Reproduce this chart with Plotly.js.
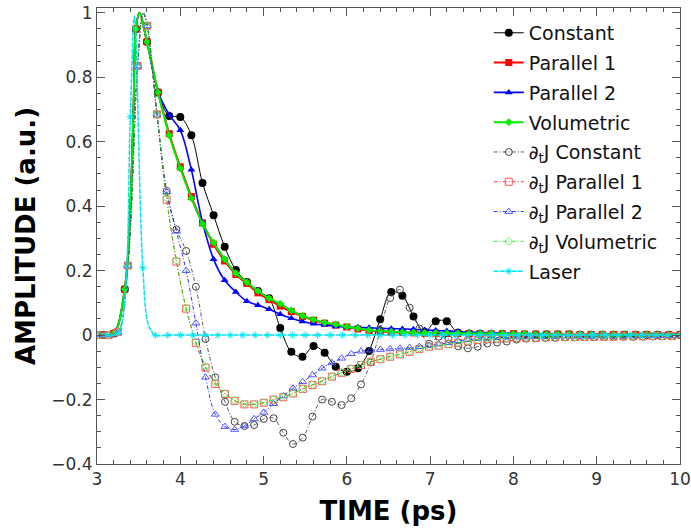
<!DOCTYPE html>
<html><head><meta charset="utf-8">
<script src="https://cdn.plot.ly/plotly-3.0.1.min.js"></script>
<style>html,body{margin:0;padding:0;background:#fff}#chart{width:691px;height:531px}</style>
</head><body><div id="chart"></div>
<script>
// ---- time grids (ps) ----
const T_SOLID = [3.067,3.2,3.333,3.467,3.6,3.733,3.867,4.0,4.133,4.267,4.4,4.533,4.667,4.8,4.933,5.067,5.2,5.333,5.467,5.6,5.733,5.867,6.0,6.133,6.267,6.4,6.533,6.667,6.8,6.933,7.067,7.2,7.333,7.467,7.6,7.733,7.867,8.0,8.133,8.267,8.4,8.533,8.667,8.8,8.933,9.067,9.2,9.333,9.467,9.6,9.733,9.867,10.0];
const T_DTJ = [3.02,3.137,3.253,3.37,3.487,3.603,3.72,3.837,3.953,4.07,4.187,4.303,4.42,4.537,4.653,4.77,4.887,5.003,5.12,5.237,5.353,5.47,5.587,5.703,5.82,5.937,6.053,6.17,6.287,6.403,6.52,6.637,6.753,6.87,6.987,7.103,7.22,7.337,7.453,7.57,7.687,7.803,7.92,8.037,8.153,8.27,8.387,8.503,8.62,8.737,8.853,8.97,9.087,9.203,9.32,9.437,9.553,9.67,9.787,9.903];
const T_LASER = [3.1,3.25,3.4,3.55,3.7,3.85,4.0,4.15,4.3,4.45,4.6,4.75,4.9,5.05,5.2,5.35,5.5,5.65,5.8,5.95,6.1,6.25,6.4,6.55,6.7,6.85,7.0,7.15,7.3,7.45,7.6,7.75,7.9,8.05,8.2,8.35,8.5,8.65,8.8,8.95,9.1,9.25,9.4,9.55,9.7,9.85,10.0];

// ---- series values ----
const CONSTANT = [0.0,0.005,0.142,0.95,0.91,0.753,0.68,0.677,0.62,0.472,0.372,0.274,0.202,0.165,0.137,0.114,0.022,-0.052,-0.067,-0.034,-0.055,-0.098,-0.114,-0.103,-0.049,0.049,0.134,0.122,0.058,0.01,0.043,0.043,0.007,0.004,0.004,0.003,0.003,0.003,0.002,0.002,0.002,0.002,0.002,0.001,0.001,0.001,0.001,0.001,0.001,0.001,0.001,0.001,0.001];
const PARALLEL1 = [0.0,0.005,0.142,0.95,0.91,0.754,0.625,0.522,0.43,0.348,0.282,0.23,0.188,0.16,0.131,0.11,0.09,0.073,0.058,0.046,0.037,0.031,0.025,0.019,0.014,0.011,0.009,0.008,0.007,0.006,0.006,0.005,0.005,0.005,0.004,0.004,0.004,0.004,0.003,0.003,0.003,0.003,0.003,0.002,0.002,0.002,0.002,0.002,0.002,0.002,0.001,0.001,0.001];
const PARALLEL2 = [0.0,0.005,0.142,0.95,0.91,0.755,0.684,0.636,0.513,0.35,0.235,0.17,0.134,0.105,0.093,0.08,0.065,0.052,0.042,0.035,0.031,0.027,0.025,0.024,0.023,0.021,0.02,0.019,0.018,0.016,0.014,0.013,0.011,0.009,0.008,0.007,0.006,0.005,0.005,0.004,0.004,0.004,0.003,0.003,0.003,0.003,0.002,0.002,0.002,0.002,0.002,0.001,0.001];
const VOLUMETRIC = [0.0,0.005,0.142,0.95,0.91,0.753,0.62,0.517,0.425,0.345,0.287,0.236,0.192,0.164,0.137,0.114,0.097,0.077,0.06,0.048,0.039,0.033,0.026,0.021,0.016,0.013,0.011,0.009,0.008,0.007,0.007,0.006,0.006,0.005,0.005,0.005,0.004,0.004,0.004,0.003,0.003,0.003,0.003,0.003,0.002,0.002,0.002,0.002,0.002,0.002,0.001,0.001,0.001];
const DTJ_CONSTANT = [0,0,0.01,0.216,0.835,0.96,0.685,0.447,0.328,0.261,0.15,-0.012,-0.131,-0.207,-0.269,-0.282,-0.279,-0.26,-0.258,-0.303,-0.338,-0.318,-0.253,-0.2,-0.207,-0.217,-0.196,-0.153,-0.085,0.015,0.115,0.141,0.085,0.02,-0.027,-0.005,-0.012,-0.035,-0.041,-0.036,-0.026,-0.023,-0.02,-0.014,-0.011,-0.01,-0.008,-0.008,-0.007,-0.007,-0.006,-0.006,-0.006,-0.005,-0.005,-0.005,-0.004,-0.004,-0.004,-0.003];
const DTJ_PARALLEL1 = [0,0,0.01,0.216,0.835,0.96,0.685,0.42,0.228,0.082,-0.024,-0.101,-0.152,-0.183,-0.204,-0.215,-0.215,-0.21,-0.2,-0.193,-0.181,-0.167,-0.155,-0.143,-0.129,-0.117,-0.105,-0.093,-0.083,-0.075,-0.067,-0.06,-0.052,-0.043,-0.036,-0.033,-0.028,-0.024,-0.019,-0.015,-0.012,-0.011,-0.01,-0.009,-0.008,-0.008,-0.007,-0.007,-0.006,-0.006,-0.006,-0.005,-0.005,-0.005,-0.004,-0.004,-0.004,-0.003,-0.003,-0.003];
const DTJ_PARALLEL2 = [0,0,0.01,0.216,0.835,0.96,0.685,0.444,0.322,0.2,0.037,-0.131,-0.246,-0.284,-0.293,-0.282,-0.26,-0.24,-0.213,-0.189,-0.165,-0.145,-0.124,-0.103,-0.086,-0.072,-0.058,-0.05,-0.047,-0.045,-0.043,-0.041,-0.039,-0.036,-0.032,-0.028,-0.024,-0.018,-0.014,-0.011,-0.009,-0.008,-0.007,-0.006,-0.006,-0.005,-0.005,-0.005,-0.004,-0.004,-0.004,-0.004,-0.003,-0.003,-0.003,-0.003,-0.002,-0.002,-0.002,-0.002];
const DTJ_VOLUMETRIC = [0,0,0.01,0.216,0.835,0.96,0.685,0.425,0.232,0.085,-0.02,-0.097,-0.148,-0.181,-0.203,-0.213,-0.214,-0.209,-0.2,-0.192,-0.18,-0.166,-0.154,-0.142,-0.128,-0.116,-0.104,-0.092,-0.082,-0.074,-0.066,-0.059,-0.051,-0.042,-0.036,-0.033,-0.028,-0.024,-0.019,-0.015,-0.012,-0.011,-0.01,-0.009,-0.008,-0.008,-0.007,-0.007,-0.006,-0.006,-0.006,-0.005,-0.005,-0.005,-0.004,-0.004,-0.004,-0.003,-0.003,-0.003];
const LASER = [0,0.005,0.677,0.209,0,0,0,0,0,0,0,0,0,0,0,0,0,0,0,0,0,0,0,0,0,0,0,0,0,0,0,0,0,0,0,0,0,0,0,0,0,0,0,0,0,0,0];

// extra points on the drawn curves (between markers) near the pulse peak
const SOLID_PEAK_T = [3.40, 3.44, 3.51];
const SOLID_PEAK_Y = [0.40, 0.72, 1.0];
const DTJ_PEAK_T = [3.555];
const DTJ_PEAK_Y = [1.0];
const LASER_PEAK_T = [3.33, 3.45, 3.62];
const LASER_PEAK_Y = [0.10, 0.99, 0.03];

const NAMES = ['Constant','Parallel 1','Parallel 2','Volumetric','∂<sub>t</sub>J Constant','∂<sub>t</sub>J Parallel 1','∂<sub>t</sub>J Parallel 2','∂<sub>t</sub>J Volumetric','Laser'];

const FONT = 'DejaVu Sans, Verdana, sans-serif';
const DASHDOT = '4px,2px,1px,2px';

function lineTrace(t, y, pT, pY, style, group) {
  const pts = t.map((v, i) => [v, y[i]]);
  if (pT) pT.forEach((v, i) => pts.push([v, pY[i]]));
  pts.sort((a, b) => a[0] - b[0]);
  return {x: pts.map(p => p[0]), y: pts.map(p => p[1]), mode: 'lines',
    line: Object.assign({shape: 'spline', smoothing: 1}, style),
    showlegend: false, legendgroup: group, hoverinfo: 'skip'};
}
function markerTrace(name, t, y, style, marker, group) {
  const xs = [], ys = [];
  t.forEach((v, i) => { xs.push(v, null); ys.push(y[i], null); });
  return {x: xs, y: ys, name: name, mode: 'lines+markers', line: style,
    marker: marker, legendgroup: group, connectgaps: false};
}

const series = [
  {t: T_SOLID, y: CONSTANT, pT: SOLID_PEAK_T, pY: SOLID_PEAK_Y, line: {color: '#000', width: 1},
   marker: {symbol: 'circle', size: 8, color: '#000'}},
  {t: T_SOLID, y: PARALLEL1, pT: SOLID_PEAK_T, pY: SOLID_PEAK_Y, line: {color: '#ff0000', width: 2},
   marker: {symbol: 'square', size: 7, color: '#ff0000'}},
  {t: T_SOLID, y: PARALLEL2, pT: SOLID_PEAK_T, pY: SOLID_PEAK_Y, line: {color: '#0000ff', width: 1.6},
   marker: {symbol: 'triangle-up', size: 7, color: '#0000ff'}},
  {t: T_SOLID, y: VOLUMETRIC, pT: SOLID_PEAK_T, pY: SOLID_PEAK_Y, line: {color: '#00ee00', width: 2},
   marker: {symbol: 'diamond', size: 6, color: '#00ee00'}},
  {t: T_DTJ, y: DTJ_CONSTANT, pT: DTJ_PEAK_T, pY: DTJ_PEAK_Y, line: {color: '#333', width: 0.8, dash: DASHDOT},
   marker: {symbol: 'circle-open', size: 7, color: '#444', line: {width: 1}}},
  {t: T_DTJ, y: DTJ_PARALLEL1, pT: DTJ_PEAK_T, pY: DTJ_PEAK_Y, line: {color: '#ff0000', width: 0.8, dash: DASHDOT},
   marker: {symbol: 'square-open', size: 7, color: '#ff5555', line: {width: 1}}},
  {t: T_DTJ, y: DTJ_PARALLEL2, pT: DTJ_PEAK_T, pY: DTJ_PEAK_Y, line: {color: '#0000ff', width: 0.8, dash: DASHDOT},
   marker: {symbol: 'triangle-up-open', size: 7, color: '#5555ff', line: {width: 1}}},
  {t: T_DTJ, y: DTJ_VOLUMETRIC, pT: DTJ_PEAK_T, pY: DTJ_PEAK_Y, line: {color: '#00ee00', width: 0.8, dash: DASHDOT},
   marker: {symbol: 'diamond-open', size: 6, color: '#66ee66', line: {width: 1}}},
  {t: T_LASER, y: LASER, pT: LASER_PEAK_T, pY: LASER_PEAK_Y, line: {color: '#00e5ee', width: 1.5, dash: '5px,1px'},
   marker: {symbol: 'asterisk-open', size: 6, color: '#00e5ee', line: {width: 1, color: '#00e5ee'}}}
];

const data = [];
series.forEach((s, i) => {
  const g = 'g' + i;
  data.push(lineTrace(s.t, s.y, s.pT, s.pY, s.line, g));
  data.push(markerTrace(NAMES[i], s.t, s.y, s.line, s.marker, g));
});

const axisCommon = {
  showgrid: false, zeroline: false, showline: true, linecolor: '#555', linewidth: 1,
  mirror: 'allticks', ticks: 'inside', ticklen: 8, tickcolor: '#555', tickwidth: 1,
  tickfont: {family: FONT, size: 17, color: '#333'}
};

const layout = {
  width: 691, height: 531,
  margin: {l: 97, r: 11, t: 8, b: 67},
  paper_bgcolor: '#fff', plot_bgcolor: '#fff',
  font: {family: FONT},
  xaxis: Object.assign({}, axisCommon, {
    range: [3, 10], dtick: 1, tick0: 3,
    minor: {dtick: 0.2, ticks: 'inside', ticklen: 4, tickcolor: '#555'},
    title: {text: 'TIME (ps)', font: {family: FONT, size: 26, color: '#000', weight: 'bold'}, standoff: 13}
  }),
  yaxis: Object.assign({}, axisCommon, {
    range: [-0.4, 1.015], dtick: 0.2, tick0: 0, tickformat: '~g',
    minor: {dtick: 0.05, ticks: 'inside', ticklen: 4, tickcolor: '#555'},
    title: {text: 'AMPLITUDE (a.u.)', font: {family: FONT, size: 26, color: '#000', weight: 'bold'}, standoff: 8}
  }),
  legend: {x: 0.672, y: 0.987, xanchor: 'left', yanchor: 'top', bgcolor: 'rgba(0,0,0,0)',
    font: {family: FONT, size: 19, color: '#111'}, tracegroupgap: 2.1},
  showlegend: true
};

Plotly.newPlot('chart', data, layout, {displayModeBar: false, staticPlot: true});
</script>
</body></html>
